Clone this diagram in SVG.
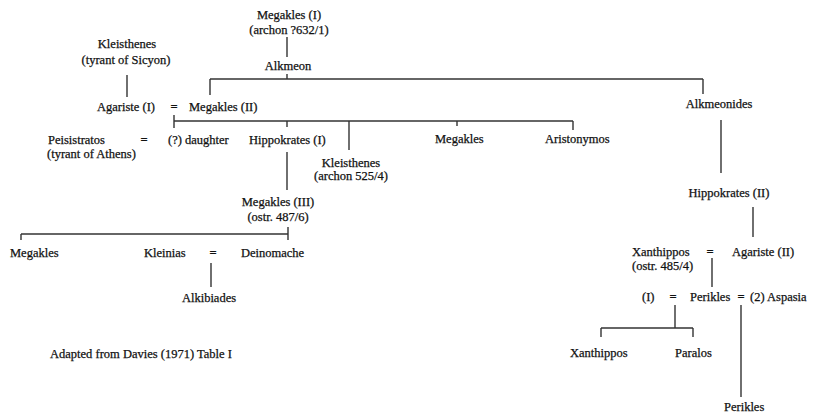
<svg xmlns="http://www.w3.org/2000/svg" width="813" height="417" viewBox="0 0 813 417">
<style>
text{font-family:'Liberation Serif','DejaVu Serif',serif;font-size:12.5px;fill:#111;stroke:#111;stroke-width:0.25}
.m{text-anchor:middle}
.eq{text-anchor:middle;font-weight:bold}
#connectors line{stroke:#333;stroke-width:1.4;fill:none}
</style>
<rect width="813" height="417" fill="#fff"/>
<g id="connectors">
<line x1="287" y1="37" x2="287" y2="57"/>
<line x1="287" y1="74" x2="287" y2="79"/>
<line x1="210" y1="79" x2="703" y2="79"/>
<line x1="210" y1="79" x2="210" y2="95"/>
<line x1="703" y1="79" x2="703" y2="94"/>
<line x1="127" y1="75" x2="127" y2="97"/>
<line x1="174" y1="115" x2="174" y2="128"/>
<line x1="174" y1="121" x2="573" y2="121"/>
<line x1="287" y1="121" x2="287" y2="127"/>
<line x1="349" y1="121" x2="349" y2="150"/>
<line x1="457" y1="121" x2="457" y2="126"/>
<line x1="573" y1="121" x2="573" y2="130"/>
<line x1="287" y1="152" x2="287" y2="190"/>
<line x1="21" y1="234" x2="288" y2="234"/>
<line x1="21" y1="234" x2="21" y2="240"/>
<line x1="288" y1="227" x2="288" y2="240"/>
<line x1="211" y1="263" x2="211" y2="287"/>
<line x1="721" y1="120" x2="721" y2="173"/>
<line x1="753" y1="207" x2="753" y2="237"/>
<line x1="712" y1="258" x2="712" y2="287"/>
<line x1="675" y1="305" x2="675" y2="328"/>
<line x1="601" y1="328" x2="693" y2="328"/>
<line x1="601" y1="328" x2="601" y2="337"/>
<line x1="693" y1="328" x2="693" y2="337"/>
<line x1="741" y1="305" x2="741" y2="397"/>
</g>
<g font-family="Liberation Serif, DejaVu Serif, serif">
<g id="megakles1"><text class="m" x="289" y="19">Megakles (I)</text><text class="m" x="289" y="34">(archon ?632/1)</text></g>
<g id="alkmeon"><text class="m" x="288" y="70">Alkmeon</text></g>
<g id="kleisthenes-sicyon"><text class="m" x="127" y="48">Kleisthenes</text><text class="m" x="126" y="64">(tyrant of Sicyon)</text></g>
<g id="agariste1"><text class="m" x="126" y="111">Agariste (I)</text></g>
<g id="eq1"><text class="eq" x="174" y="111">=</text></g>
<g id="megakles2"><text x="189" y="111">Megakles (II)</text></g>
<g id="alkmeonides"><text class="m" x="719" y="108">Alkmeonides</text></g>
<g id="peisistratos"><text x="48" y="144">Peisistratos</text><text x="47" y="158">(tyrant of Athens)</text></g>
<g id="eq2"><text class="eq" x="144" y="144">=</text></g>
<g id="daughter"><text x="168" y="144">(?) daughter</text></g>
<g id="hippokrates1"><text x="249" y="144">Hippokrates (I)</text></g>
<g id="kleisthenes-archon"><text class="m" x="351" y="167">Kleisthenes</text><text class="m" x="351" y="180">(archon 525/4)</text></g>
<g id="megakles-b"><text x="435" y="143">Megakles</text></g>
<g id="aristonymos"><text x="545" y="143">Aristonymos</text></g>
<g id="megakles3"><text class="m" x="278" y="206">Megakles (III)</text><text class="m" x="278" y="221">(ostr. 487/6)</text></g>
<g id="megakles-c"><text x="10" y="257">Megakles</text></g>
<g id="kleinias"><text x="144" y="257">Kleinias</text></g>
<g id="eq3"><text class="eq" x="213" y="257">=</text></g>
<g id="deinomache"><text x="241" y="257">Deinomache</text></g>
<g id="alkibiades"><text class="m" x="209" y="302">Alkibiades</text></g>
<g id="caption"><text x="50" y="358">Adapted from Davies (1971) Table I</text></g>
<g id="hippokrates2"><text class="m" x="729" y="197">Hippokrates (II)</text></g>
<g id="xanthippos1"><text x="632" y="256">Xanthippos</text><text x="632" y="270">(ostr. 485/4)</text></g>
<g id="eq4"><text class="eq" x="710" y="256">=</text></g>
<g id="agariste2"><text x="732" y="256">Agariste (II)</text></g>
<g id="wife1"><text x="642" y="301">(I)</text></g>
<g id="eq5"><text class="eq" x="673" y="301">=</text></g>
<g id="perikles"><text x="690" y="301">Perikles</text></g>
<g id="eq6"><text class="eq" x="741" y="301">=</text></g>
<g id="aspasia"><text x="750" y="301">(2) Aspasia</text></g>
<g id="xanthippos2"><text x="570" y="357">Xanthippos</text></g>
<g id="paralos"><text x="675" y="357">Paralos</text></g>
<g id="perikles2"><text x="724" y="411">Perikles</text></g>
</g>
</svg>
